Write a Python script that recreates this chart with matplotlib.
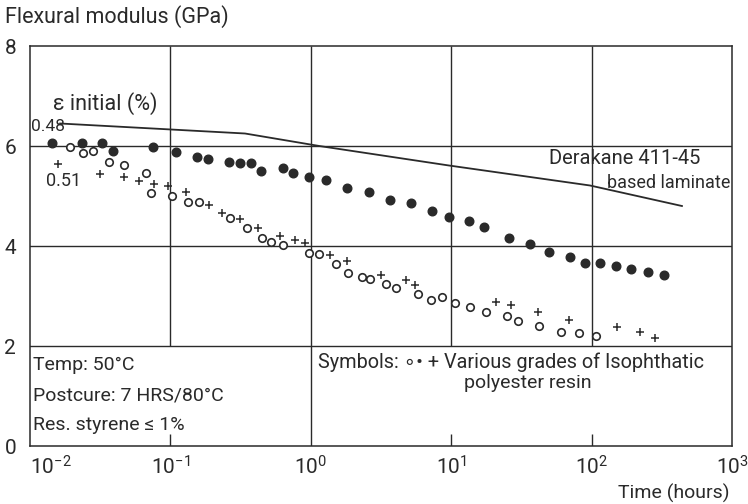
import numpy as np
import matplotlib
matplotlib.use("Agg")
import matplotlib.pyplot as plt

plt.rcParams['font.family'] = ['Roboto', 'DejaVu Sans']
plt.rcParams['mathtext.fontset'] = 'custom'
plt.rcParams['mathtext.rm'] = 'Roboto'
plt.rcParams['mathtext.it'] = 'Roboto'

# filled circles
t_filled = [0.0143, 0.0233, 0.0327, 0.0388, 0.0755, 0.110, 0.154, 0.185, 0.260, 0.315,
            0.373, 0.444, 0.631, 0.743, 0.966, 1.28, 1.80, 2.60, 3.66, 5.17,
            7.30, 9.69, 13.3, 17.1, 25.8, 36.4, 49.7, 70.5, 90.2, 115,
            149, 190, 253, 326]
e_filled = [6.07, 6.07, 6.07, 5.91, 5.98, 5.89, 5.79, 5.75, 5.69, 5.66,
            5.67, 5.51, 5.56, 5.47, 5.38, 5.32, 5.16, 5.09, 4.93, 4.87,
            4.71, 4.58, 4.51, 4.38, 4.15, 4.04, 3.88, 3.78, 3.67, 3.66,
            3.60, 3.55, 3.48, 3.43]

# open circles
t_open = [0.0193, 0.0237, 0.0282, 0.0367, 0.0468, 0.0665, 0.0722, 0.1035, 0.133, 0.159,
          0.267, 0.351, 0.452, 0.518, 0.637, 0.975, 1.14, 1.51, 1.85, 2.30,
          2.64, 3.41, 4.02, 5.83, 7.15, 8.65, 10.7, 13.7, 17.6, 25.1,
          30.0, 42.4, 60.8, 80.9, 107]
e_open = [5.99, 5.86, 5.90, 5.69, 5.62, 5.47, 5.06, 5.00, 4.88, 4.88,
          4.56, 4.36, 4.16, 4.08, 4.03, 3.87, 3.85, 3.64, 3.47, 3.39,
          3.35, 3.25, 3.17, 3.05, 2.93, 2.99, 2.87, 2.79, 2.69, 2.61,
          2.50, 2.41, 2.29, 2.26, 2.20]

# plus symbols
t_plus = [0.0157, 0.0315, 0.0469, 0.060, 0.0764, 0.0966, 0.130, 0.187, 0.234, 0.313,
          0.423, 0.604, 0.768, 0.906, 1.38, 1.80, 3.18, 4.74, 5.55, 20.7,
          26.7, 41.7, 69.4, 152, 221, 283]
e_plus = [5.64, 5.45, 5.38, 5.31, 5.24, 5.20, 5.09, 4.82, 4.67, 4.54,
          4.36, 4.21, 4.12, 4.06, 3.82, 3.70, 3.42, 3.33, 3.23, 2.88,
          2.82, 2.68, 2.53, 2.38, 2.29, 2.17]

# Derakane 411-45 based laminate
t_derakane = [0.0164, 0.340, 1.15, 9.64, 97.5, 440]
e_derakane = [6.45, 6.25, 6.00, 5.61, 5.21, 4.80]

x_ticks = [1e-2, 1e-1, 1e0, 1e1, 1e2, 1e3]
x_labels = ['$10^{-2}$', '$10^{-1}$', '$10^{0}$', '$10^{1}$', '$10^{2}$', '$10^{3}$']
y_ticks = [0, 2, 4, 6, 8]

ink = '#2a2a2a'

fig = plt.figure(figsize=(7.48, 5.04), dpi=100)
ax = fig.add_axes([30 / 748, 58 / 504, 702 / 748, 400 / 504])
ax.set_xscale('log')
ax.set_xlim(1e-2, 1e3)
ax.set_ylim(0, 8)

for s in ax.spines.values():
    s.set_color(ink)
    s.set_linewidth(1.1)

# grid: horizontal lines full width, verticals stop at 2 except 10^0
for y in [2, 4, 6]:
    ax.axhline(y, color=ink, lw=1.0, zorder=1)
ax.vlines([0.1, 10, 100], 2, 8, color=ink, lw=1.0, zorder=1)
ax.vlines([1.0], 0, 8, color=ink, lw=1.0, zorder=1)
ax.vlines([0.1, 10, 100], 0, 0.25, color=ink, lw=1.0, zorder=1)

ax.plot(t_derakane, e_derakane, color=ink, lw=1.3, zorder=2)
ax.plot(t_filled, e_filled, 'o', ms=6.2, color=ink, mec=ink, zorder=3)
ax.plot(t_open, e_open, 'o', ms=5.4, mfc='white', mec=ink, mew=1.2, zorder=3)
ax.plot(t_plus, e_plus, '+', ms=6.0, color=ink, mew=1.1, zorder=3)

ax.set_xticks(x_ticks)
ax.set_xticklabels(x_labels)
ax.minorticks_off()
ax.set_yticks(y_ticks)
ax.tick_params(length=0, labelsize=15, colors=ink)
ax.tick_params(axis='y', pad=10)
ax.tick_params(axis='x', pad=7)
ax.get_xticklabels()[0].set_ha('left')

fs = 14
fig.text(5 / 748, 1 - 17 / 504, 'Flexural modulus (GPa)', fontsize=15.5, color=ink, va='center')
fig.text(730 / 748, 1 - 493 / 504, 'Time (hours)', fontsize=fs, color=ink, va='center', ha='right')

ax.text(0.0146, 6.85, 'ε initial (%)', fontsize=15.5, color=ink, va='center')
ax.text(0.0101, 6.39, '0.48', fontsize=12.5, color=ink, va='center')
ax.text(0.0130, 5.31, '0.51', fontsize=13, color=ink, va='center')
ax.text(50, 5.75, 'Derakane 411-45', fontsize=14.5, color=ink, va='center')
ax.text(980, 5.25, 'based laminate', fontsize=13, color=ink, va='center', ha='right')

ax.text(0.0105, 1.63, 'Temp: 50°C', fontsize=fs, color=ink, va='center')
ax.text(0.0105, 1.01, 'Postcure: 7 HRS/80°C', fontsize=fs, color=ink, va='center')
ax.text(0.0105, 0.43, 'Res. styrene ≤ 1%', fontsize=fs, color=ink, va='center')
ax.text(1.125, 1.67, 'Symbols: ∘• + Various grades of Isophthatic', fontsize=14.3, color=ink, va='center')
ax.text(35, 1.25, 'polyester resin', fontsize=fs, color=ink, va='center', ha='center')

fig.savefig('out.png', dpi=100)
